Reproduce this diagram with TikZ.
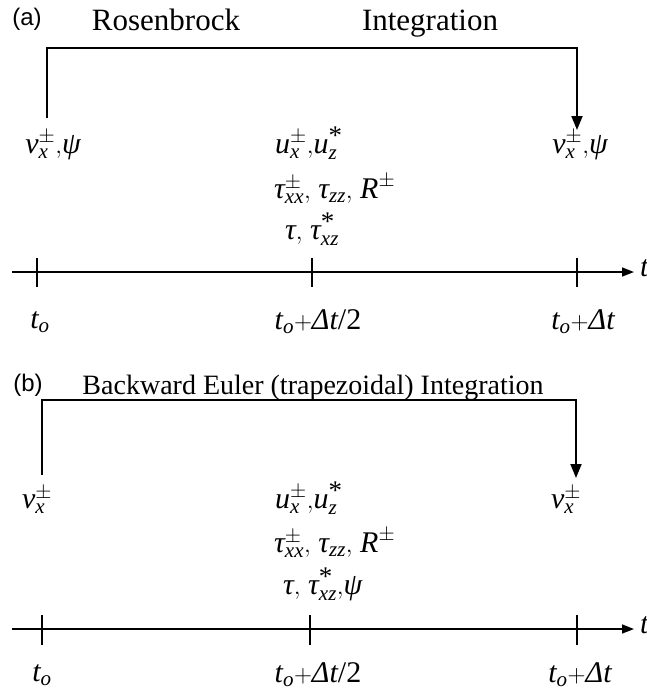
\documentclass[tikz,border=0pt]{standalone}
\usepackage{amsmath}
\usepackage{fontspec}
\setmainfont{Liberation Serif}
\newfontfamily\labfont{Liberation Sans}
\usetikzlibrary{arrows.meta}
\newcommand\mi[1]{\textit{#1}}
\newcommand\stara{\mbox{\fontsize{27}{27}\selectfont *}}
\begin{document}
\begin{tikzpicture}[x=1pt,y=-1pt,
  hdr/.style={font=\fontsize{31}{36}\selectfont, inner sep=0pt, anchor=base},
  hdrb/.style={font=\fontsize{28}{32}\selectfont, inner sep=0pt, anchor=base},
  lab/.style={font=\labfont\fontsize{24}{28}\selectfont, inner sep=0pt, anchor=base},
  mth/.style={font=\fontsize{30}{36}\selectfont, inner sep=0pt},
  arr/.style={line width=1.8pt, -{Triangle[length=14pt,width=11pt]}},
  axisline/.style={line width=1.6pt, -{Triangle[length=12pt,width=9pt]}},
  tickline/.style={line width=1.5pt}]
\useasboundingbox (0,0) rectangle (646,694);
\clip (0,0) rectangle (646,694);
\fill[white] (0,0) rectangle (646,694);
% ---------- panel (a) ----------
\node[lab] (la) at (27,25) {(a)};
\node[hdr] (h1) at (166,30) {Rosenbrock};
\node[hdr] (h2) at (430,30) {Integration};
\coordinate (aLb) at (47,118);
\coordinate (aLt) at (47,48);
\coordinate (aRt) at (577,48);
\coordinate (aRb) at (577,130);
\draw[arr] (aLb) -- (aLt) -- (aRt) -- (aRb);
\node[mth] (va1) at (53,145) {$\mi{v}_{\mi{x}}^{\pm}{,}\mi{ψ}$};
\node[mth] (va2) at (580,145) {$\mi{v}_{\mi{x}}^{\pm}{,}\mi{ψ}$};
\node[mth,anchor=west] (ma1) at (275,143) {$\mi{u}_{\mi{x}}^{\pm}{,}\mi{u}_{\mi{z}}^{\stara}$};
\node[mth,anchor=west] (ma2) at (274,189) {$\mi{τ}_{\mi{xx}}^{\pm}{,}\ \mi{τ}_{\mi{zz}}{,}\ \mi{R}^{\pm}$};
\node[mth,anchor=west] (ma3) at (285,229) {$\mi{τ}{,}\ \mi{τ}_{\mi{xz}}^{\stara}$};
\coordinate (a0) at (12,272);
\coordinate (a1) at (634,272);
\draw[axisline] (a0) -- (a1);
\node[mth,anchor=west] (ta) at (640,268) {\mi{t}};
\coordinate (ka0t) at (37,258); \coordinate (ka0b) at (37,287);
\coordinate (ka1t) at (312,258); \coordinate (ka1b) at (312,287);
\coordinate (ka2t) at (577,258); \coordinate (ka2b) at (577,287);
\draw[tickline] (ka0t) -- (ka0b);
\draw[tickline] (ka1t) -- (ka1b);
\draw[tickline] (ka2t) -- (ka2b);
\node[mth] (la0) at (40,322) {$\mi{t}_{\mi{o}}$};
\node[mth] (la1) at (318,322) {$\mi{t}_{\mi{o}}{+}\mi{Δ}\mi{t}\text{/2}$};
\node[mth] (la2) at (583,322) {$\mi{t}_{\mi{o}}{+}\mi{Δ}\mi{t}$};
% ---------- panel (b) ----------
\node[lab] (lb) at (28,391) {(b)};
\node[hdrb] (hb) at (313,394) {Backward Euler (trapezoidal) Integration};
\coordinate (bLb) at (42,475);
\coordinate (bLt) at (42,400);
\coordinate (bRt) at (576,400);
\coordinate (bRb) at (576,478);
\draw[arr] (bLb) -- (bLt) -- (bRt) -- (bRb);
\node[mth] (vb1) at (37,500) {$\mi{v}_{\mi{x}}^{\pm}$};
\node[mth] (vb2) at (566,500) {$\mi{v}_{\mi{x}}^{\pm}$};
\node[mth,anchor=west] (mb1) at (275,498) {$\mi{u}_{\mi{x}}^{\pm}{,}\mi{u}_{\mi{z}}^{\stara}$};
\node[mth,anchor=west] (mb2) at (274,543) {$\mi{τ}_{\mi{xx}}^{\pm}{,}\ \mi{τ}_{\mi{zz}}{,}\ \mi{R}^{\pm}$};
\node[mth,anchor=west] (mb3) at (283,584) {$\mi{τ}{,}\ \mi{τ}_{\mi{xz}}^{\stara}{,}\mi{ψ}$};
\coordinate (b0) at (12,629);
\coordinate (b1) at (634,629);
\draw[axisline] (b0) -- (b1);
\node[mth,anchor=west] (tb) at (640,625) {\mi{t}};
\coordinate (kb0t) at (42,615); \coordinate (kb0b) at (42,645);
\coordinate (kb1t) at (310,615); \coordinate (kb1b) at (310,645);
\coordinate (kb2t) at (577,615); \coordinate (kb2b) at (577,645);
\draw[tickline] (kb0t) -- (kb0b);
\draw[tickline] (kb1t) -- (kb1b);
\draw[tickline] (kb2t) -- (kb2b);
\node[mth] (lb0) at (42,675) {$\mi{t}_{\mi{o}}$};
\node[mth] (lb1) at (318,675) {$\mi{t}_{\mi{o}}{+}\mi{Δ}\mi{t}\text{/2}$};
\node[mth] (lb2) at (580,675) {$\mi{t}_{\mi{o}}{+}\mi{Δ}\mi{t}$};
\end{tikzpicture}
\end{document}
